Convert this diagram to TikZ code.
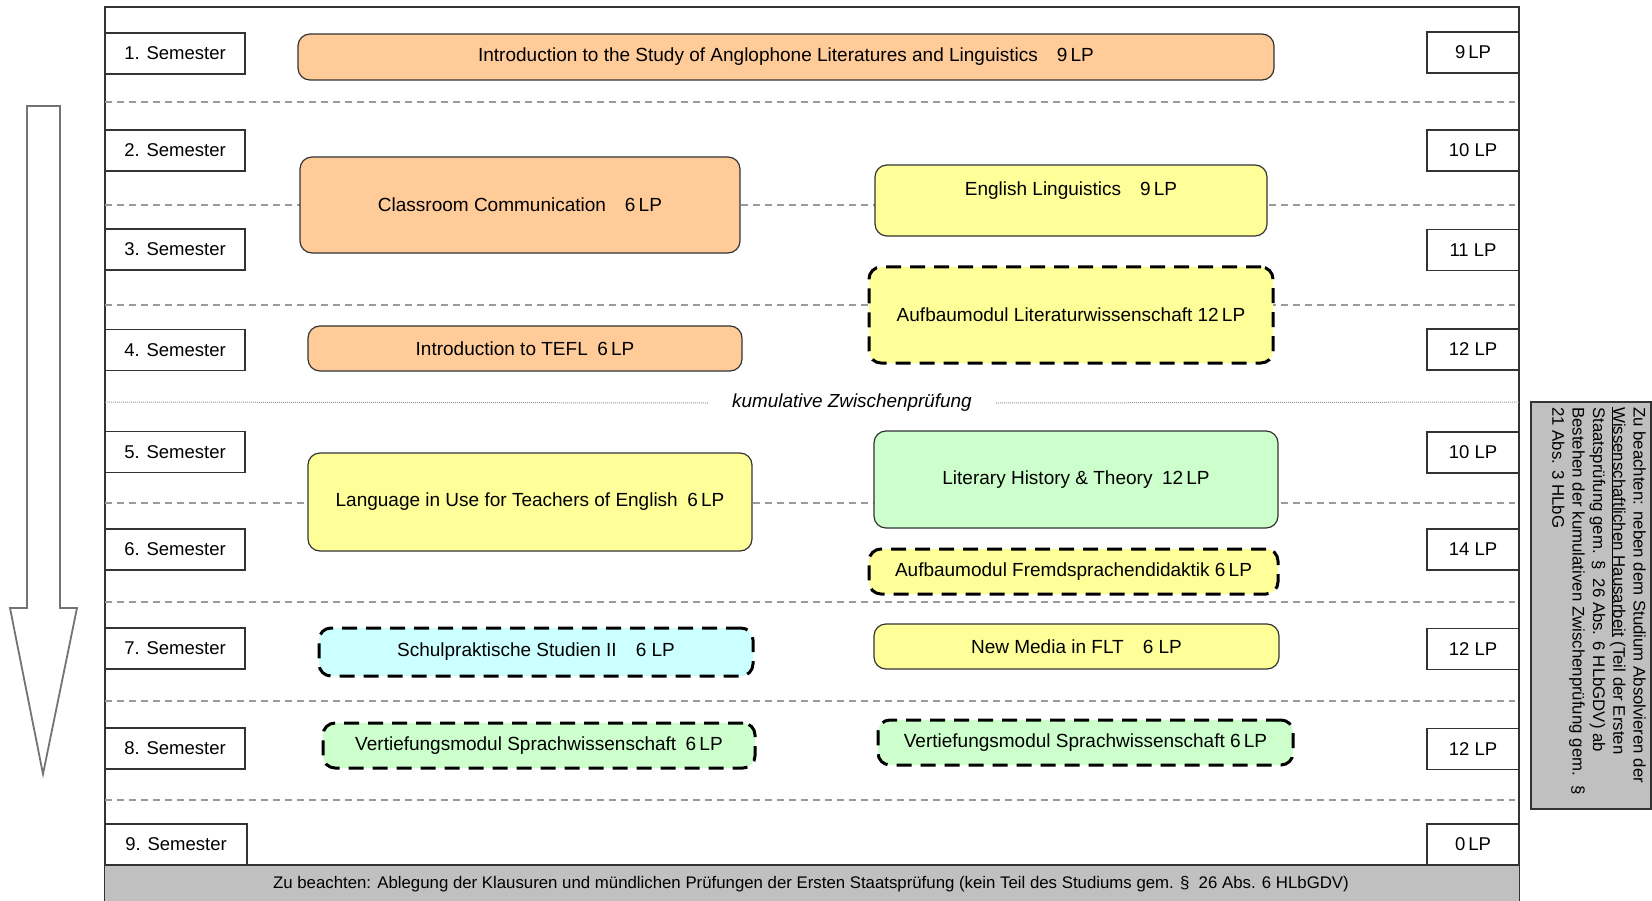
\documentclass[tikz,border=0pt]{standalone}
\usepackage{fontspec}
\setmainfont{Liberation Sans}

\definecolor{modorange}{HTML}{FFCC99}
\definecolor{modyellow}{HTML}{FFFF99}
\definecolor{modgreen}{HTML}{CCFFCC}
\definecolor{modcyan}{HTML}{CCFFFF}
\definecolor{notegray}{HTML}{C0C0C0}
\definecolor{sepgray}{HTML}{9A9A9A}

\tikzset{
	semester/.style={draw=black!80, line width=1.2pt, fill=white, minimum width=140pt, minimum height=41pt, inner sep=0pt, font=\fontsize{18.5}{20}\selectfont},
	points/.style={semester, minimum width=92pt},
	module/.style={draw=black!80, line width=1.2pt, rounded corners=12pt, inner sep=0pt, font=\fontsize{19}{21}\selectfont},
	optional/.style={module, draw=black, line width=3pt, dash pattern=on 15pt off 9pt},
	separator/.style={sepgray, line width=1.3pt, dash pattern=on 7pt off 5pt}
}

\begin{document}
\begin{tikzpicture}[x=1pt, y=-1pt]
		\useasboundingbox (0,0) rectangle (1652,901);
		
		% frame and semester rows
		\draw [line width=1.5pt, black!80] (105,901) -- (105,7) -- (1519,7) -- (1519,901);
		
		\draw [separator] (105,102) -- (1515,102);
		\draw [separator] (105,205) -- (1515,205);
		\draw [separator] (105,305) -- (1515,305);
		\draw [separator] (105,503) -- (1515,503);
		\draw [separator] (105,602) -- (1515,602);
		\draw [separator] (105,701) -- (1515,701);
		\draw [separator] (105,800) -- (1515,800);
		
		\node [inner xsep=24pt, font=\fontsize{18.9}{21}\selectfont\itshape] (kum) at (852,403) {kumulative Zwischenprüfung};
		\draw [sepgray, line width=1pt, dash pattern=on 1pt off 1pt] (105,402) -- (kum.west);
		\draw [sepgray, line width=1pt, dash pattern=on 1pt off 1pt] (kum.east) -- (1519,402);
		
		% time arrow
		\draw [black!55, line width=1.8pt, fill=white] (27,106) -- (60,106) -- (60,608) -- (77,608) -- (43,774) -- (10,608) -- (27,608) -- cycle;
		
		% bottom note
		\fill [notegray] (105,865) rectangle (1519,901);
		\draw [line width=1.5pt, black!80] (105,865) -- (1519,865);
		\node [font=\fontsize{16.8}{19}\selectfont] (exam note) at (811,884) {Zu beachten: Ablegung der Klausuren und mündlichen Prüfungen der Ersten Staatsprüfung (kein Teil des Studiums gem. §\ \ 26 Abs. 6 HLbGDV)};
		
		\node [semester] (sem 1) at (175,53.5) {1. Semester};
		\node [semester] (sem 2) at (175,150.5) {2. Semester};
		\node [semester] (sem 3) at (175,249.5) {3. Semester};
		\node [semester] (sem 4) at (175,350) {4. Semester};
		\node [semester] (sem 5) at (175,452) {5. Semester};
		\node [semester] (sem 6) at (175,549.5) {6. Semester};
		\node [semester] (sem 7) at (175,648.5) {7. Semester};
		\node [semester] (sem 8) at (175,748.5) {8. Semester};
		\node [semester, minimum width=142pt] (sem 9) at (176,844.5) {9. Semester};
		
		\node [points] (lp 1) at (1473,52.5) {9\,LP};
		\node [points] (lp 2) at (1473,150.5) {10 LP};
		\node [points] (lp 3) at (1473,250) {11 LP};
		\node [points] (lp 4) at (1473,349.5) {12 LP};
		\node [points] (lp 5) at (1473,452.5) {10 LP};
		\node [points] (lp 6) at (1473,549.5) {14 LP};
		\node [points] (lp 7) at (1473,649) {12 LP};
		\node [points] (lp 8) at (1473,749) {12 LP};
		\node [points] (lp 9) at (1473,844.5) {0\,LP};
		
		% modules
		\node [module, fill=modorange, minimum width=976pt, minimum height=46pt] (intro) at (786,57) {Introduction to the Study of Anglophone Literatures and Linguistics\quad 9\,LP};
		\node [module, fill=modorange, minimum width=440pt, minimum height=96pt] (classroom) at (520,205) {Classroom Communication\quad 6\,LP};
		\node [module, fill=modorange, minimum width=434pt, minimum height=45pt] (tefl) at (525,348.5) {Introduction to TEFL\enspace 6\,LP};
		\node [module, fill=modyellow, minimum width=444pt, minimum height=98pt] (language use) at (530,502) {Language in Use for Teachers of English\enspace 6\,LP};
		\node [optional, fill=modcyan, minimum width=434pt, minimum height=48pt] (school practice) at (536,652) {Schulpraktische Studien II\quad 6 LP};
		\node [optional, fill=modgreen, minimum width=432pt, minimum height=45pt] (deep ling left) at (539,745.5) {Vertiefungsmodul Sprachwissenschaft\enspace 6\,LP};
		
		\node [module, fill=modyellow, minimum width=392pt, minimum height=71pt, text depth=24pt] (linguistics) at (1071,200.5) {English Linguistics\quad 9\,LP};
		\node [optional, fill=modyellow, minimum width=404pt, minimum height=96pt] (literature) at (1071,315) {Aufbaumodul Literaturwissenschaft 12\,LP};
		\node [module, fill=modgreen, minimum width=404pt, minimum height=97pt] (history) at (1076,479.5) {Literary History \& Theory\enspace 12\,LP};
		\node [optional, fill=modyellow, minimum width=409pt, minimum height=45pt] (didactics) at (1073.5,571.5) {Aufbaumodul Fremdsprachendidaktik 6\,LP};
		\node [module, fill=modyellow, minimum width=405pt, minimum height=45pt] (new media) at (1076.5,646.5) {New Media in FLT\quad 6 LP};
		\node [optional, fill=modgreen, minimum width=415pt, minimum height=45pt] (deep ling right) at (1085.5,742.5) {Vertiefungsmodul Sprachwissenschaft 6\,LP};
		
		% side note
		\draw [line width=1.3pt, black!80, fill=notegray] (1531,402) rectangle (1651,809);
		\node [rotate=-90, anchor=north west, align=left, inner sep=0pt, font=\fontsize{16.8}{20.3}\selectfont] (side note) at (1646,407) {Zu beachten: neben dem Studium Absolvieren der\\ \underline{Wissenschaftlichen Hausarbeit} (Teil der Ersten\\ Staatsprüfung gem. §\ \ 26 Abs. 6 HLbGDV) ab\\ Bestehen der kumulativen Zwischenprüfung gem.\ \ §\\ 21 Abs. 3 HLbG};
	\end{tikzpicture}
\end{document}
